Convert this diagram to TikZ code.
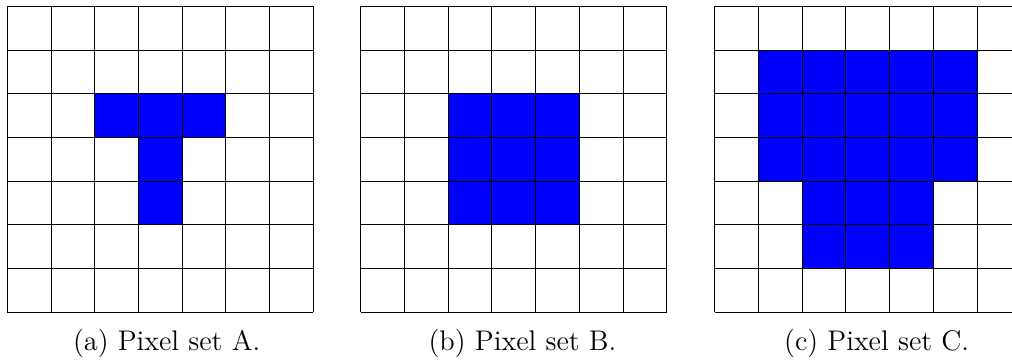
\documentclass[tikz,border=0pt]{standalone}
\begin{document}
\begin{tikzpicture}[x=0.4545pt,y=-0.4545pt,
  pix/.style={fill={rgb,255:red,0;green,0;blue,255}},
  gridline/.style={draw=black,line width=0.45pt},
  caption/.style={anchor=base,inner sep=0pt,font=\fontsize{12.9}{15}\selectfont}]
\useasboundingbox (0,0) rectangle (1012,362);
\clip (0,0) rectangle (1012,362);
% (a)
\begin{scope}[shift={(7.3,6.3)},x=19.868pt,y=-19.868pt]
  \fill[pix] (2,2) rectangle (5,3);
  \fill[pix] (3,3) rectangle (4,5);
  \foreach \i in {0,...,7}{
    \draw[gridline] (\i,0) -- (\i,7);
    \draw[gridline] (0,\i) -- (7,\i);
  }
\end{scope}
% (b)
\begin{scope}[shift={(360.7,6.3)},x=19.868pt,y=-19.868pt]
  \fill[pix] (2,2) rectangle (5,5);
  \foreach \i in {0,...,7}{
    \draw[gridline] (\i,0) -- (\i,7);
    \draw[gridline] (0,\i) -- (7,\i);
  }
\end{scope}
% (c)
\begin{scope}[shift={(714.7,6.3)},x=19.868pt,y=-19.868pt]
  \fill[pix] (1,1) rectangle (6,4);
  \fill[pix] (2,4) rectangle (5,6);
  \foreach \i in {0,...,7}{
    \draw[gridline] (\i,0) -- (\i,7);
    \draw[gridline] (0,\i) -- (7,\i);
  }
\end{scope}
\node[caption] (capa) at (166.7,351) {(a) Pixel set A.};
\node[caption] (capb) at (522.5,351) {(b) Pixel set B.};
\node[caption] (capc) at (876.7,351) {(c) Pixel set C.};
\end{tikzpicture}
\end{document}
